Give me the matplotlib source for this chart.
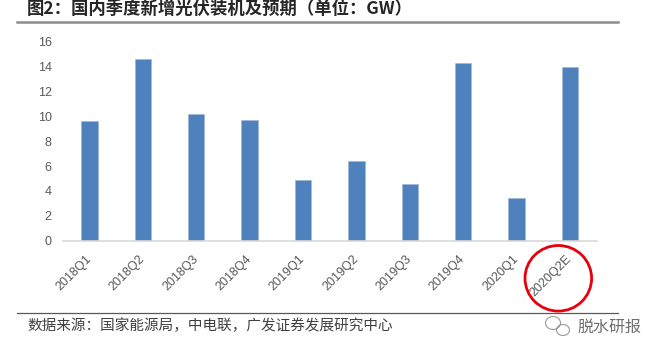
import matplotlib

matplotlib.use("Agg")
import matplotlib.pyplot as plt
from matplotlib.lines import Line2D
from matplotlib.patches import Ellipse

plt.rcParams["font.family"] = ["Liberation Sans", "Noto Sans CJK SC", "DejaVu Sans"]

# quarterly new PV installations in China (GW)
quarters = ["2018Q1", "2018Q2", "2018Q3", "2018Q4", "2019Q1",
            "2019Q2", "2019Q3", "2019Q4", "2020Q1", "2020Q2E"]
installs = [9.65, 14.63, 10.18, 9.73, 4.9, 6.4, 4.56, 14.26, 3.46, 13.99]
yticks = [0, 2, 4, 6, 8, 10, 12, 14, 16]

title = "图2：国内季度新增光伏装机及预期（单位：GW）"
source = "数据来源：国家能源局，中电联，广发证券发展研究中心"
mark = "脱水研报"

W, H = 662, 358
fig = plt.figure(figsize=(W / 100, H / 100), dpi=100)
ax = fig.add_axes([62.7 / W, 1 - 240.7 / H, (596.7 - 62.7) / W, (240.7 - 41.7) / H])

x = range(len(quarters))
ax.bar(x, installs, width=0.31, color="#4f81bd", edgecolor="#9db6d9", linewidth=0.4)
ax.set_xlim(-0.5, len(quarters) - 0.5)
ax.set_ylim(0, 16)
ax.set_yticks(yticks)
ax.set_yticklabels([str(v) for v in yticks], fontsize=9, color="#595959")
ax.set_xticks(list(x))
ax.set_xticklabels(quarters, fontsize=9, color="#595959", rotation=45,
                   ha="right", va="center", rotation_mode="anchor")
ax.tick_params(axis="y", length=0, pad=8)
ax.tick_params(axis="x", length=0, pad=12)
for s in ("top", "right", "left"):
    ax.spines[s].set_visible(False)
ax.spines["bottom"].set_color("#d9d9d9")
ax.spines["bottom"].set_linewidth(1.2)

# header, rules, footer
fig.text(27 / W, 1 - 9 / H, title, fontsize=12.5, fontweight="bold", color="#262626",
         ha="left", va="center", family=["Noto Sans CJK SC", "DejaVu Sans"])
fig.add_artist(Line2D([17 / W, 618 / W], [1 - 22 / H] * 2, color="#8c8c8c", lw=1.8))
fig.add_artist(Line2D([17 / W, 618 / W], [1 - 312.7 / H] * 2, color="#595959", lw=0.9))
fig.text(27 / W, 1 - 326 / H, source, fontsize=10.5, color="#404040",
         ha="left", va="center", family=["Noto Sans CJK SC", "DejaVu Sans"])
fig.text(577 / W, 1 - 327 / H, mark, fontsize=11.5, color="#6e6e6e",
         ha="left", va="center", family=["Noto Sans CJK SC", "DejaVu Sans"])

# wechat-like icon next to the watermark
inch = fig.dpi_scale_trans
fig.add_artist(Ellipse((5.53, (H - 323) / 100), 0.15, 0.13, transform=inch,
                       fill=False, ec="#9a9a9a", lw=0.8))
fig.add_artist(Ellipse((5.63, (H - 330) / 100), 0.13, 0.11, transform=inch,
                       fill=False, ec="#9a9a9a", lw=0.8))

# red highlight around the forecast label
fig.add_artist(Ellipse((558.3 / 100, (H - 278.3) / 100), 0.666, 0.656, transform=inch,
                       fill=False, ec="#e8000b", lw=2.0))

fig.savefig("out.png", dpi=100)
